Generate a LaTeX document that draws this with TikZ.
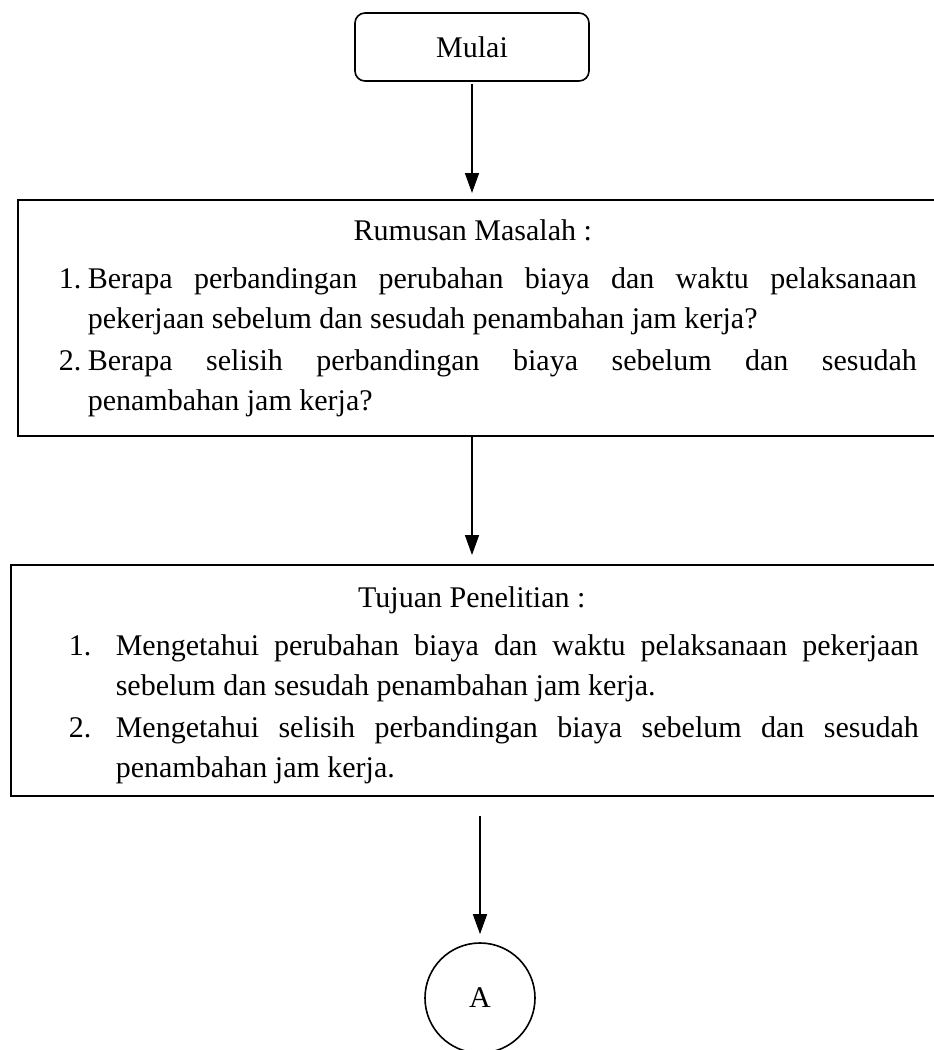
\documentclass[tikz,border=0pt]{standalone}
\usepackage{fontspec}
\setmainfont{Liberation Serif}
\usetikzlibrary{arrows.meta}
\tikzset{
  panah/.style={thick,-{Triangle[width=7pt,length=10pt]}},
  kotak/.style={draw,thick,anchor=north west,align=justify,inner ysep=10pt,
    font=\fontsize{15}{20}\selectfont},
}
\newcommand{\butir}[2]{\par\hangindent=#1\hangafter=1\noindent\makebox[#1][l]{#2}}
\begin{document}
\begin{tikzpicture}[x=0.5pt,y=-0.5pt]
\useasboundingbox (0,0) rectangle (933,1050);
\node[draw,thick,rounded corners=5pt,minimum width=117pt,minimum height=34pt,
  font=\fontsize{15}{20}\selectfont] (mulai) at (472,47) {Mulai};
\node[kotak,text width=429pt,inner xsep=20.5pt,inner ysep=9.5pt] (rumusan) at (17,199) {%
{\centering\hspace*{-15pt}\rule{0pt}{11pt}Rumusan Masalah :\par}\vspace{4pt}%
\butir{14.5pt}{1.}Berapa perbandingan perubahan biaya dan waktu pelaksanaan
\linebreak pekerjaan sebelum dan sesudah penambahan jam kerja?\par\vspace{1pt}%
\butir{14.5pt}{2.}Berapa selisih perbandingan biaya sebelum dan sesudah
\linebreak penambahan jam kerja?\par};
\node[kotak,text width=425pt,inner xsep=29pt,inner ysep=6pt] (tujuan) at (10,564) {%
{\centering\hspace*{-22pt}\rule{0pt}{15.5pt}Tujuan Penelitian :\par}\vspace{4pt}%
\butir{23.5pt}{1.}Mengetahui perubahan biaya dan waktu pelaksanaan pekerjaan
\linebreak sebelum dan sesudah penambahan jam kerja.\par\vspace{1pt}%
\butir{23.5pt}{2.}Mengetahui selisih perbandingan biaya sebelum dan sesudah
\linebreak penambahan jam kerja.\par};
\node[draw,thick,circle,minimum size=55pt,font=\fontsize{15}{20}\selectfont]
  (A) at (480,998) {A};
\draw[panah,shorten <=1pt,shorten >=3pt] (mulai) -- (rumusan.north -| mulai);
\draw[panah,shorten >=4.5pt] (rumusan.south -| mulai) -- (tujuan.north -| mulai);
\draw[panah,shorten <=9.5pt,shorten >=4pt] (tujuan.south -| A) -- (A);
\end{tikzpicture}
\end{document}
